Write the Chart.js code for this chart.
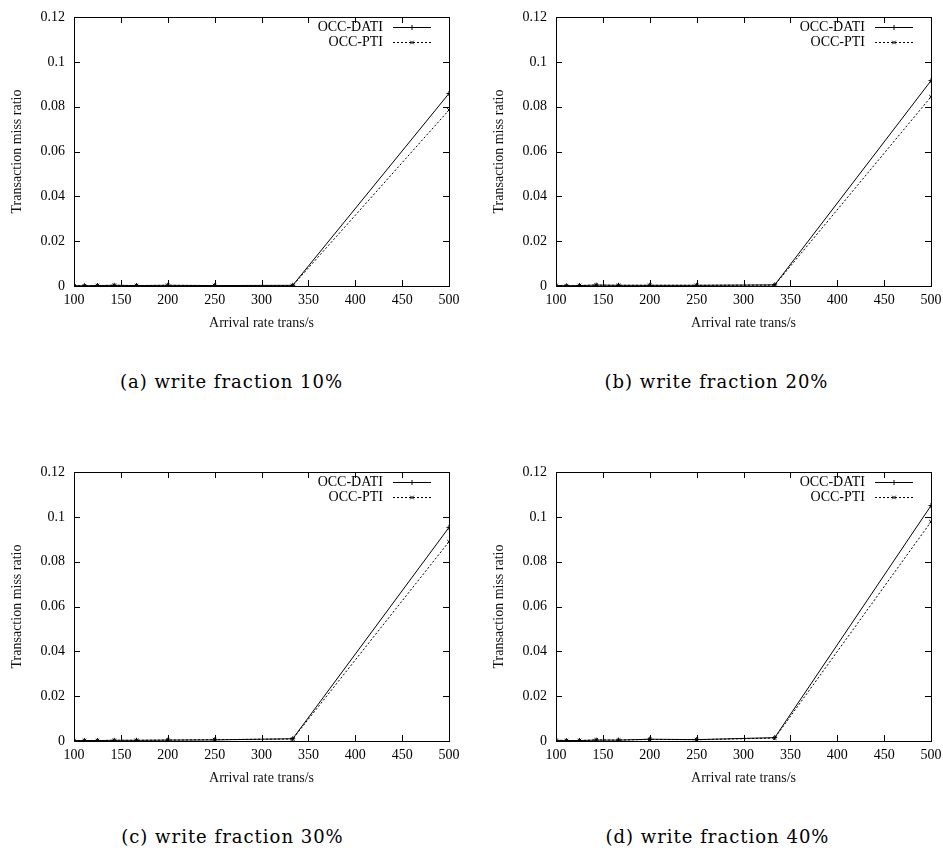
<!DOCTYPE html>
<html>
<head>
<meta charset="utf-8">
<script src="https://cdn.jsdelivr.net/npm/chart.js@4.4.0/dist/chart.umd.min.js"></script>
<style>
  body { margin: 0; background: #fff; }
  #page { position: relative; width: 943px; height: 856px; }
  canvas { position: absolute; }
  .cap {
    position: absolute; width: 461px; text-align: center;
    font-family: "DejaVu Serif", serif; font-size: 18px; letter-spacing: 1px; color: #000;
  }
</style>
</head>
<body>
<div id="page">
  <canvas id="g0" width="461" height="340" style="left:0;top:0"></canvas>
  <canvas id="g1" width="461" height="340" style="left:482px;top:0"></canvas>
  <canvas id="g2" width="461" height="340" style="left:0;top:455px"></canvas>
  <canvas id="g3" width="461" height="340" style="left:482px;top:455px"></canvas>
  <div class="cap" style="left:1px;top:371px">(a) write fraction 10%</div>
  <div class="cap" style="left:486px;top:371px">(b) write fraction 20%</div>
  <div class="cap" style="left:2px;top:826px">(c) write fraction 30%</div>
  <div class="cap" style="left:487px;top:826px">(d) write fraction 40%</div>
</div>
<script>
// arrival rates (trans/s)
const rates = [100, 111.1, 125, 142.9, 166.7, 200, 250, 333.3, 500];

// miss ratio, one pair per write fraction
const dati10 = [0.0001, 0.0001, 0.0002, 0.0003, 0.0002, 0.0003, 0.0002, 0.0003, 0.0859];
const pti10  = [0.0001, 0.0001, 0.0002, 0.0003, 0.0002, 0.0003, 0.0002, 0.0002, 0.0785];
const dati20 = [0.0002, 0.0001, 0.0002, 0.0004, 0.0003, 0.0003, 0.0003, 0.0005, 0.0916];
const pti20  = [0.0002, 0.0001, 0.0002, 0.0004, 0.0003, 0.0003, 0.0003, 0.0004, 0.0844];
const dati30 = [0.0002, 0.0002, 0.0002, 0.0003, 0.0003, 0.0004, 0.0005, 0.0010, 0.0953];
const pti30  = [0.0002, 0.0002, 0.0002, 0.0003, 0.0003, 0.0004, 0.0006, 0.0009, 0.0889];
const dati40 = [0.0003, 0.0002, 0.0002, 0.0004, 0.0004, 0.0008, 0.0006, 0.0015, 0.1050];
const pti40  = [0.0003, 0.0002, 0.0002, 0.0005, 0.0004, 0.0007, 0.0006, 0.0013, 0.0978];

const xTicks = [100, 150, 200, 250, 300, 350, 400, 450, 500];
const yTicks = [0, 0.02, 0.04, 0.06, 0.08, 0.1, 0.12];
const seriesNames = ['OCC-DATI', 'OCC-PTI'];

const panels = [
  ['g0', dati10, pti10],
  ['g1', dati20, pti20],
  ['g2', dati30, pti30],
  ['g3', dati40, pti40],
];

const FONT = { family: 'Liberation Serif', size: 14 };
const TICK = 6;

// gnuplot look: box border, inward ticks on all sides, key in top right
const gnuplotFrame = {
  id: 'gnuplotFrame',
  afterDraw(chart) {
    const ctx = chart.ctx;
    const a = chart.chartArea;
    const xs = chart.scales.x, ys = chart.scales.y;
    ctx.save();
    ctx.strokeStyle = '#000';
    ctx.lineWidth = 1;
    ctx.setLineDash([]);
    ctx.strokeRect(Math.round(a.left) + 0.5, Math.round(a.top) + 0.5,
                   Math.round(a.right - a.left), Math.round(a.bottom - a.top));
    ctx.beginPath();
    xTicks.forEach(v => {
      const x = Math.round(xs.getPixelForValue(v)) + 0.5;
      ctx.moveTo(x, a.bottom); ctx.lineTo(x, a.bottom - TICK);
      ctx.moveTo(x, a.top); ctx.lineTo(x, a.top + TICK);
    });
    yTicks.forEach(v => {
      const y = Math.round(ys.getPixelForValue(v)) + 0.5;
      ctx.moveTo(a.left, y); ctx.lineTo(a.left + TICK, y);
      ctx.moveTo(a.right, y); ctx.lineTo(a.right - TICK, y);
    });
    ctx.stroke();

    // key
    ctx.font = FONT.size + 'px ' + FONT.family;
    ctx.fillStyle = '#000';
    ctx.textAlign = 'right';
    ctx.textBaseline = 'middle';
    chart.data.datasets.forEach((ds, i) => {
      const y = Math.round(a.top + 10 + i * 15) + 0.5;
      ctx.fillText(ds.label, a.right - 66, y);
      ctx.beginPath();
      ctx.setLineDash(ds.borderDash || []);
      ctx.moveTo(a.right - 56, y);
      ctx.lineTo(a.right - 18, y);
      ctx.stroke();
      ctx.setLineDash([]);
      if (Chart.helpers && Chart.helpers.drawPoint) {
        Chart.helpers.drawPoint(ctx, {
          pointStyle: ds.pointStyle, radius: ds.pointRadius, borderWidth: 1, rotation: 0
        }, a.right - 37, y);
      }
    });
    ctx.restore();
  }
};

function makeChart(id, dati, pti) {
  const ctx = document.getElementById(id);
  return new Chart(ctx, {
    type: 'line',
    data: {
      datasets: [
        {
          label: seriesNames[0],
          data: rates.map((r, i) => ({ x: r, y: dati[i] })),
          borderColor: '#000',
          backgroundColor: '#000',
          borderWidth: 1,
          pointStyle: 'cross',
          pointRadius: 2.5,
          pointBorderWidth: 1,
          tension: 0,
        },
        {
          label: seriesNames[1],
          data: rates.map((r, i) => ({ x: r, y: pti[i] })),
          borderColor: '#000',
          backgroundColor: '#000',
          borderWidth: 1,
          borderDash: [2, 2],
          pointStyle: 'crossRot',
          pointRadius: 2.5,
          pointBorderWidth: 1,
          tension: 0,
        }
      ]
    },
    options: {
      responsive: false,
      animation: false,
      devicePixelRatio: 1,
      layout: { padding: { top: 17, right: 12, left: 0, bottom: 0 } },
      plugins: { legend: { display: false }, tooltip: { enabled: false } },
      scales: {
        x: {
          type: 'linear',
          min: 100,
          max: 500,
          afterBuildTicks: s => { s.ticks = xTicks.map(v => ({ value: v })); },
          afterFit: s => { s.height = 54; },
          grid: { display: false, drawTicks: true, tickLength: 6 },
          border: { display: false },
          ticks: { color: '#000', font: FONT, padding: 0, maxRotation: 0, autoSkip: false },
          title: {
            display: true, text: 'Arrival rate trans/s', color: '#111',
            font: FONT, padding: { top: 0, bottom: 8 }
          }
        },
        y: {
          type: 'linear',
          min: 0,
          max: 0.12,
          afterBuildTicks: s => { s.ticks = yTicks.map(v => ({ value: v })); },
          afterFit: s => { s.width = 74; },
          grid: { display: false, drawTicks: true, tickLength: 9 },
          border: { display: false },
          ticks: {
            color: '#000', font: FONT, padding: 0,
            callback: v => String(Number(v.toFixed(4)))
          },
          title: {
            display: true, text: 'Transaction miss ratio', color: '#111',
            font: FONT, padding: { top: 9, bottom: 0 }
          }
        }
      }
    },
    plugins: [gnuplotFrame]
  });
}

panels.forEach(p => makeChart(p[0], p[1], p[2]));
</script>
</body>
</html>
